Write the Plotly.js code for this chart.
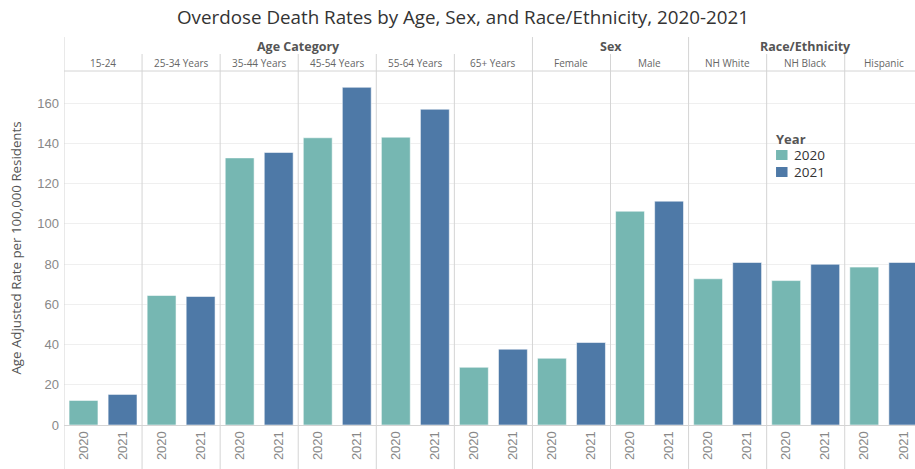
<!DOCTYPE html>
<html>
<head>
<meta charset="utf-8">
<script src="https://cdn.plot.ly/plotly-3.0.1.min.js"></script>
<style>
html,body{margin:0;padding:0;overflow:hidden;background:#fff;}
#chart{width:915px;height:469px;}
</style>
</head>
<body>
<div id="chart"></div>
<script>
// ---- data ----
const groups = ["Age Category", "Sex", "Race/Ethnicity"];
const categories = ["15-24", "25-34 Years", "35-44 Years", "45-54 Years", "55-64 Years", "65+ Years",
                    "Female", "Male", "NH White", "NH Black", "Hispanic"];
const categoryGroup = [0, 0, 0, 0, 0, 0, 1, 1, 2, 2, 2];
const years = ["2020", "2021"];
const rate2020 = [12.2, 64.4, 132.8, 142.8, 143.1, 28.7, 33.2, 106.3, 72.7, 71.8, 78.5];
const rate2021 = [15.2, 63.9, 135.5, 167.9, 157.0, 37.7, 41.0, 111.3, 80.8, 79.9, 80.8];
const yTicks = [0, 20, 40, 60, 80, 100, 120, 140, 160];
const legendTitle = "Year";

// ---- style ----
const colors = {"2020": "#76B7B2", "2021": "#4E79A7"};
const font = "'Open Sans', 'Noto Sans', sans-serif";
const gridCol = "#d4d4d4";

const xPos = (i, k) => i + (k === 0 ? 0.25 : 0.75);
const series = [rate2020, rate2021];

const traces = years.map((yr, k) => ({
  type: "bar",
  name: yr,
  x: categories.map((c, i) => xPos(i, k)),
  y: series[k],
  width: 0.37,
  marker: {color: colors[yr], line: {color: "rgba(255,255,255,0.55)", width: 1}},
  hoverinfo: "y",
  showlegend: false
}));

const tickvals = [], ticktext = [];
categories.forEach((c, i) => years.forEach((yr, k) => { tickvals.push(xPos(i, k)); ticktext.push(yr); }));

// shapes: column separators, header lines
const shapes = [];
const topSub = 1.048, topGroup = 1.096, bottom = -0.125;
shapes.push({type: "line", xref: "x", yref: "paper", x0: 0, x1: 0, y0: bottom, y1: topGroup,
             line: {color: gridCol, width: 1}});
for (let i = 1; i < categories.length + 1; i++) {
  const isGroupEdge = i === categories.length || categoryGroup[i] !== categoryGroup[i - 1];
  shapes.push({type: "line", xref: "x", yref: "paper", x0: i, x1: i, y0: bottom,
               y1: isGroupEdge ? topGroup : topSub, line: {color: gridCol, width: 1}});
}
shapes.push({type: "line", xref: "paper", yref: "paper", x0: 0, x1: 1, y0: 1, y1: 1,
             line: {color: gridCol, width: 1}});

// annotations: group headers and category headers
const annotations = [];
groups.forEach((g, gi) => {
  const idx = categoryGroup.map((v, i) => v === gi ? i : -1).filter(i => i >= 0);
  const center = (idx[0] + idx[idx.length - 1] + 1) / 2;
  annotations.push({text: "<b>" + g + "</b>", x: center, y: 1.0706, xref: "x", yref: "paper",
                    showarrow: false, yanchor: "middle", font: {family: font, size: 12.5, color: "#555"}});
});
categories.forEach((c, i) => {
  annotations.push({text: c, x: i + 0.5, y: 1.0226, xref: "x", yref: "paper", showarrow: false,
                    yanchor: "middle", font: {family: font, size: 10, color: "#666"}});
});

// legend (drawn as a small key in paper space)
const legX = 0.8367, legTitleY = 0.808, legRowY = [0.7627, 0.7147], sq = 0.0282, sqW = 0.0135;
annotations.push({text: "<b>" + legendTitle + "</b>", x: legX - 0.002, y: legTitleY, xref: "paper", yref: "paper",
                  xanchor: "left", yanchor: "middle", showarrow: false,
                  font: {family: font, size: 13, color: "#555"}});
years.forEach((yr, k) => {
  shapes.push({type: "rect", xref: "paper", yref: "paper", x0: legX, x1: legX + sqW,
               y0: legRowY[k] - sq / 2, y1: legRowY[k] + sq / 2,
               fillcolor: colors[yr], line: {width: 0}});
  annotations.push({text: yr, x: legX + sqW + 0.005, y: legRowY[k], xref: "paper", yref: "paper",
                    xanchor: "left", yanchor: "middle", showarrow: false,
                    font: {family: font, size: 13.5, color: "#333"}});
});

const layout = {
  width: 915, height: 469,
  margin: {l: 64, r: 0, t: 71, b: 44},
  paper_bgcolor: "#fff", plot_bgcolor: "#fff",
  title: {text: "Overdose Death Rates by Age, Sex, and Race/Ethnicity, 2020-2021",
          x: 0.506, xanchor: "center", y: 0.962, yanchor: "middle",
          font: {family: font, size: 18.8, color: "#333"}},
  barmode: "overlay",
  bargap: 0,
  showlegend: false,
  xaxis: {range: [0, 10.9], tickvals: tickvals, ticktext: ticktext, tickangle: -90,
          showgrid: false, zeroline: false, showline: true, linecolor: gridCol, linewidth: 1,
          ticks: "", tickfont: {family: "'Liberation Sans', Arial, sans-serif", size: 13, color: "#888"},
          fixedrange: true},
  yaxis: {range: [0, 176], tickvals: yTicks, showgrid: true, gridcolor: "#efefef", gridwidth: 1,
          zeroline: false, showline: false, ticks: "", ticklabelstandoff: 4,
          tickfont: {family: "'Liberation Sans', Arial, sans-serif", size: 13, color: "#888"},
          title: {text: "Age Adjusted Rate per 100,000 Residents", standoff: 12,
                  font: {family: font, size: 13.3, color: "#555"}},
          fixedrange: true},
  shapes: shapes,
  annotations: annotations
};

Plotly.newPlot("chart", traces, layout, {displayModeBar: false, staticPlot: true});
</script>
</body>
</html>
